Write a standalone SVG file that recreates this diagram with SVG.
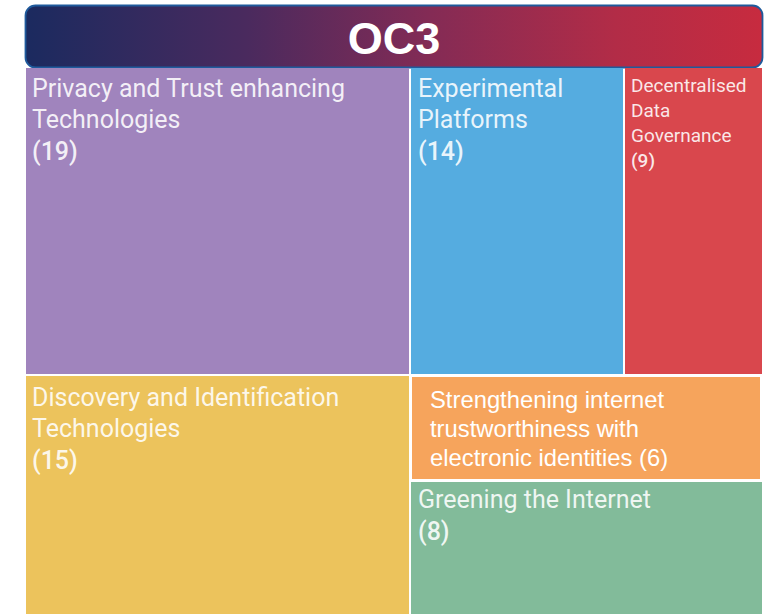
<svg xmlns="http://www.w3.org/2000/svg" width="774" height="614" viewBox="0 0 774 614">
<defs>
<linearGradient id="hdr" x1="0" y1="0" x2="1" y2="0">
<stop offset="0" stop-color="#1B2A5F"/>
<stop offset="0.3" stop-color="#4A2A5E"/>
<stop offset="0.55" stop-color="#842B55"/>
<stop offset="0.8" stop-color="#B22C47"/>
<stop offset="1" stop-color="#C72B3F"/>
</linearGradient>
<style>
.lbl{font-family:Roboto,"Liberation Sans",sans-serif;font-size:25px;fill:#ffffff;fill-opacity:0.88}
.num{font-weight:500}
.sm{font-family:Roboto,"Liberation Sans",sans-serif;font-size:19px;fill:#ffffff;fill-opacity:0.88}
.ar{font-family:"Liberation Sans",Arial,sans-serif;font-size:23.8px;fill:#ffffff}
.title{font-family:"Liberation Sans",Arial,sans-serif;font-size:45px;font-weight:bold;fill:#ffffff}
</style>
</defs>
<rect width="774" height="614" fill="#ffffff"/>
<g id="header">
<rect x="25.5" y="5.5" width="737" height="62" rx="10" ry="10" fill="url(#hdr)" stroke="#1F5A9C" stroke-width="1.8"/>
<text class="title" x="394" y="54" text-anchor="middle">OC3</text>
</g>
<g id="privacy">
<rect x="26" y="68" width="383" height="306" fill="#A084BD"/>
<text class="lbl" x="32" y="97">Privacy and Trust enhancing</text>
<text class="lbl" x="32" y="128">Technologies</text>
<text class="lbl num" x="32" y="160">(19)</text>
</g>
<g id="experimental">
<rect x="411" y="68" width="212" height="306" fill="#55ACE0"/>
<text class="lbl" x="418" y="97">Experimental</text>
<text class="lbl" x="418" y="128">Platforms</text>
<text class="lbl num" x="418" y="160">(14)</text>
</g>
<g id="decentralised">
<rect x="625" y="68" width="137" height="306" fill="#D9474D"/>
<text class="sm" x="631" y="92">Decentralised</text>
<text class="sm" x="631" y="117">Data</text>
<text class="sm" x="631" y="142">Governance</text>
<text class="sm num" x="631" y="167">(9)</text>
</g>
<g id="discovery">
<rect x="26" y="376" width="383" height="238" fill="#ECC35C"/>
<text class="lbl" x="32" y="406">Discovery and Identification</text>
<text class="lbl" x="32" y="437">Technologies</text>
<text class="lbl num" x="32" y="469">(15)</text>
</g>
<g id="strengthening">
<rect x="411" y="376" width="350" height="104" fill="#F6A45C" stroke="#ffffff" stroke-width="2"/>
<text class="ar" x="430" y="408">Strengthening internet</text>
<text class="ar" x="430" y="437">trustworthiness with</text>
<text class="ar" x="430" y="466">electronic identities (6)</text>
</g>
<g id="greening">
<rect x="411" y="482" width="351" height="132" fill="#82BB9A"/>
<text class="lbl" x="418" y="508">Greening the Internet</text>
<text class="lbl num" x="418" y="540">(8)</text>
</g>
</svg>
